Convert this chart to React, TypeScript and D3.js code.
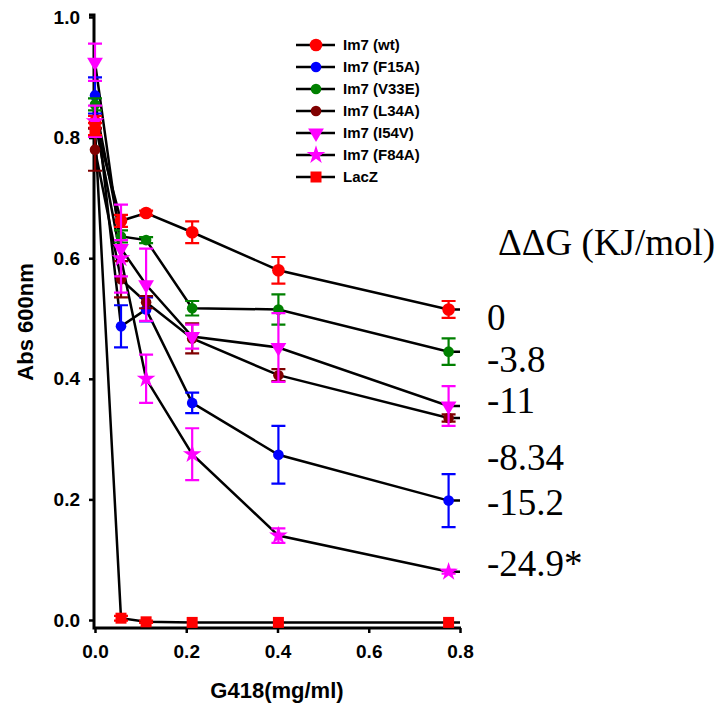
import { useEffect, useRef } from "react";
import * as d3 from "d3";

// G418 concentration (mg/ml) of each measurement
const X_VALUES = [0, 0.057, 0.112, 0.213, 0.402, 0.775];
const LINE_END_X = 0.8;

const WT = [0.826, 0.662, 0.675, 0.643, 0.58, 0.515];
const WT_ERR = [0.01, 0.01, 0.004, 0.018, 0.022, 0.014];
const F15A = [0.87, 0.487, 0.515, 0.36, 0.274, 0.198];
const F15A_ERR = [0.03, 0.035, 0.02, 0.017, 0.048, 0.044];
const V33E = [0.855, 0.636, 0.63, 0.517, 0.515, 0.445];
const V33E_ERR = [0.01, 0.01, 0.005, 0.012, 0.025, 0.022];
const L34A = [0.78, 0.565, 0.527, 0.467, 0.406, 0.335];
const L34A_ERR = [0.035, 0.03, 0.01, 0.025, 0.01, 0.006];
const I54V = [0.925, 0.616, 0.556, 0.47, 0.452, 0.355];
const I54V_ERR = [0.031, 0.073, 0.06, 0.02, 0.057, 0.033];
const F84A = [0.827, 0.6, 0.4, 0.275, 0.14, 0.08];
const F84A_ERR = [0.026, 0.03, 0.04, 0.043, 0.012, 0.003];
const LACZ = [0.814, 0.003, -0.003, -0.004, -0.004, -0.004];
const LACZ_ERR = [0.01, 0.004, 0.002, 0, 0, 0];

const X_TICKS = [0, 0.2, 0.4, 0.6, 0.8];
const Y_TICKS = [0, 0.2, 0.4, 0.6, 0.8, 1.0];

const DDG_TITLE = "ΔΔG (KJ/mol)";
const DDG_LABELS = ["0", "-3.8", "-11", "-8.34", "-15.2", "-24.9*"];

const SERIES = [
  { name: "Im7 (wt)", values: WT, err: WT_ERR, color: "#ff0000", symbol: "circle", size: 6.3 },
  { name: "Im7 (F15A)", values: F15A, err: F15A_ERR, color: "#0000ff", symbol: "circle", size: 5.3 },
  { name: "Im7 (V33E)", values: V33E, err: V33E_ERR, color: "#008000", symbol: "circle", size: 5.3 },
  { name: "Im7 (L34A)", values: L34A, err: L34A_ERR, color: "#800000", symbol: "circle", size: 5.3 },
  { name: "Im7 (I54V)", values: I54V, err: I54V_ERR, color: "#ff00ff", symbol: "triangle", size: 6 },
  { name: "Im7 (F84A)", values: F84A, err: F84A_ERR, color: "#ff00ff", symbol: "star", size: 6 },
  { name: "LacZ", values: LACZ, err: LACZ_ERR, color: "#ff0000", symbol: "square", size: 5.5 },
];

const SANS = "'Liberation Sans', Arial, sans-serif";
const SERIF = "'Liberation Serif', 'Times New Roman', serif";

function drawMarker(g, symbol, size, color, cx, cy) {
  if (symbol === "circle") {
    g.append("circle").attr("cx", cx).attr("cy", cy).attr("r", size).attr("fill", color);
    return;
  }
  const types = {
    triangle: d3.symbolTriangle,
    star: d3.symbolStar,
    square: d3.symbolSquare,
  };
  const area = symbol === "square" ? (size * 2) ** 2 : size * size * 3;
  g.append("path")
    .attr("d", d3.symbol(types[symbol], area)())
    .attr("transform", `translate(${cx},${cy})${symbol === "triangle" ? " rotate(180)" : ""}`)
    .attr("fill", color);
}

export default function App() {
  const svgRef = useRef(null);

  useEffect(() => {
    const width = 720;
    const height = 710;
    const svg = d3.select(svgRef.current);
    svg.selectAll("*").remove();
    svg.attr("width", width).attr("height", height);

    const x = d3.scaleLinear().domain([0, 0.8]).range([95, 460]);
    const y = d3.scaleLinear().domain([0, 1]).range([620, 17]);
    const axisX = 94;
    const axisY = 628;

    // y axis
    const yAxis = svg
      .append("g")
      .attr("transform", `translate(${axisX},0)`)
      .call(
        d3.axisLeft(y).tickValues(Y_TICKS).tickFormat(d3.format(".1f")).tickSize(5).tickPadding(9),
      );
    yAxis.select(".domain").remove();
    yAxis.selectAll("line").attr("stroke", "#000").attr("stroke-width", 2.5);
    yAxis
      .selectAll("text")
      .attr("font-family", SANS)
      .attr("font-weight", "bold")
      .attr("font-size", 19)
      .attr("fill", "#000");

    // x axis
    const xAxis = svg
      .append("g")
      .attr("transform", `translate(0,${axisY})`)
      .call(d3.axisBottom(x).tickValues(X_TICKS).tickFormat(d3.format(".1f")).tickSize(5).tickPadding(12));
    xAxis.select(".domain").remove();
    xAxis.selectAll("line").attr("stroke", "#000").attr("stroke-width", 2.5);
    xAxis
      .selectAll("text")
      .attr("font-family", SANS)
      .attr("font-weight", "bold")
      .attr("font-size", 19)
      .attr("fill", "#000");

    svg
      .append("path")
      .attr("d", `M${axisX - 5},15 H${axisX} V${axisY} H${x(0.8) + 1}`)
      .attr("fill", "none")
      .attr("stroke", "#000")
      .attr("stroke-width", 3);

    // connecting lines
    const line = d3
      .line()
      .x((d) => x(d[0]))
      .y((d) => y(d[1]));

    SERIES.forEach((s) => {
      const pts = X_VALUES.map((xv, i) => [xv, s.values[i]]);
      pts.push([LINE_END_X, s.values[s.values.length - 1]]);
      svg
        .append("path")
        .attr("d", line(pts))
        .attr("fill", "none")
        .attr("stroke", "#000")
        .attr("stroke-width", 2.5);
    });

    // error bars and markers
    SERIES.forEach((s) => {
      const g = svg.append("g");
      X_VALUES.forEach((xv, i) => {
        const cx = x(xv);
        const e = s.err[i];
        if (e > 0) {
          const y1 = y(s.values[i] + e);
          const y2 = y(s.values[i] - e);
          g.append("path")
            .attr("d", `M${cx},${y1} V${y2} M${cx - 7},${y1} H${cx + 7} M${cx - 7},${y2} H${cx + 7}`)
            .attr("fill", "none")
            .attr("stroke", s.color)
            .attr("stroke-width", 2.2);
        }
        drawMarker(g, s.symbol, s.size, s.color, cx, y(s.values[i]));
      });
    });

    // legend
    const legend = svg.append("g");
    SERIES.forEach((s, i) => {
      const ly = 45 + i * 22;
      legend
        .append("line")
        .attr("x1", 296)
        .attr("x2", 335)
        .attr("y1", ly)
        .attr("y2", ly)
        .attr("stroke", "#000")
        .attr("stroke-width", 2.5);
      drawMarker(legend, s.symbol, s.size, s.color, 316, ly);
      legend
        .append("text")
        .attr("x", 343)
        .attr("y", ly + 5)
        .attr("font-family", SANS)
        .attr("font-weight", "bold")
        .attr("font-size", 15)
        .attr("fill", "#000")
        .text(s.name);
    });

    // axis titles
    svg
      .append("text")
      .attr("x", 277)
      .attr("y", 698)
      .attr("text-anchor", "middle")
      .attr("font-family", SANS)
      .attr("font-weight", "bold")
      .attr("font-size", 22)
      .text("G418(mg/ml)");

    svg
      .append("text")
      .attr("transform", "rotate(-90)")
      .attr("x", -322)
      .attr("y", 33)
      .attr("text-anchor", "middle")
      .attr("font-family", SANS)
      .attr("font-weight", "bold")
      .attr("font-size", 22)
      .text("Abs 600nm");

    // ΔΔG annotations
    svg
      .append("text")
      .attr("x", 498)
      .attr("y", 255)
      .attr("font-family", SERIF)
      .attr("font-size", 37)
      .text(DDG_TITLE);

    const ddgBaselines = [330, 372, 413, 470, 515, 576];
    DDG_LABELS.forEach((label, i) => {
      svg
        .append("text")
        .attr("x", 487)
        .attr("y", ddgBaselines[i])
        .attr("font-family", SERIF)
        .attr("font-size", 37)
        .text(label);
    });
  }, []);

  return (
    <div style={{ position: "absolute", left: 0, top: 0 }}>
      <svg ref={svgRef} style={{ display: "block" }} />
    </div>
  );
}
